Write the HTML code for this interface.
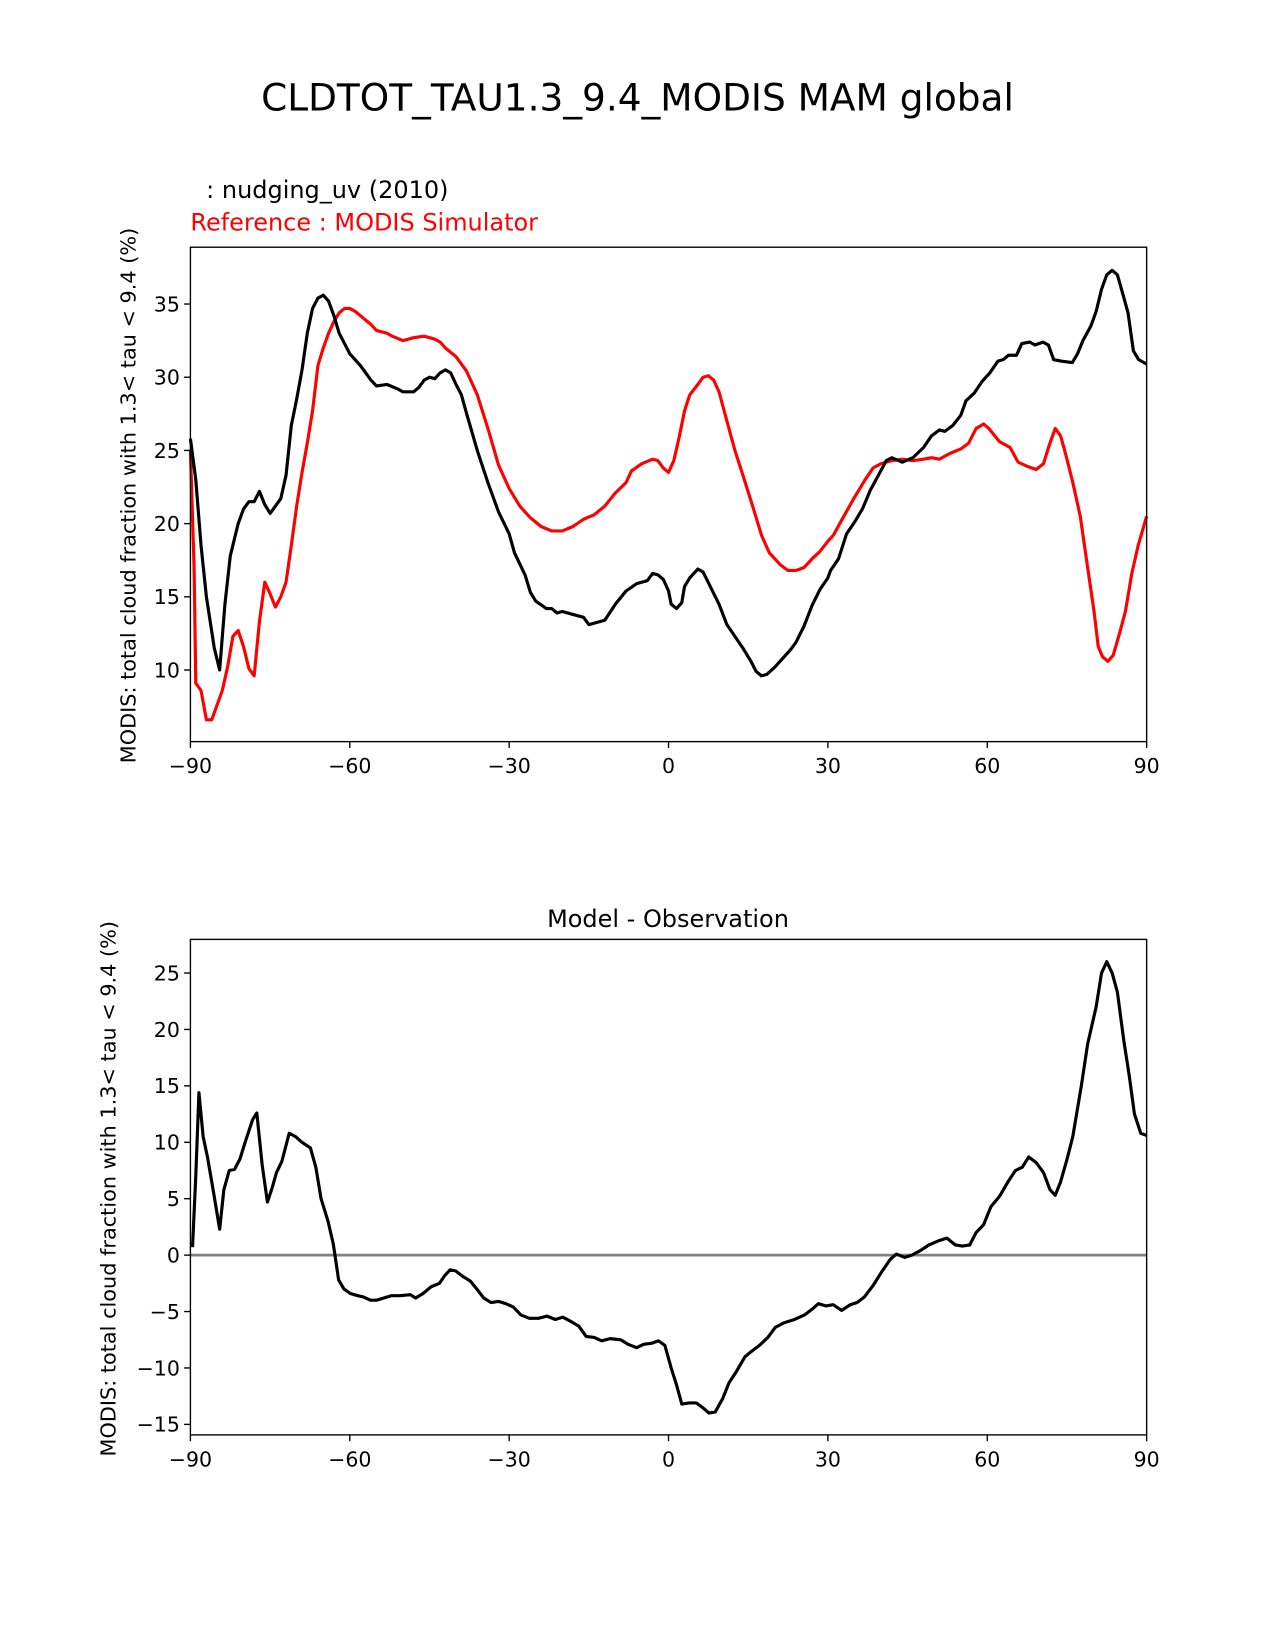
<!DOCTYPE html>
<html><head><meta charset="utf-8"><style>
body{margin:0;background:#fff}
svg{display:block;font-family:"DejaVu Sans","Liberation Sans",sans-serif}
</style></head><body>
<svg id="fig" width="1275" height="1650" viewBox="0 0 1212 1568.5">
<text x="606" y="105" font-size="35.6" text-anchor="middle">CLDTOT_TAU1.3_9.4_MODIS MAM global</text>
<text x="196" y="188" font-size="22.8">: nudging_uv (2010)</text>
<text x="181" y="219" font-size="22.8" fill="#ff0000">Reference : MODIS Simulator</text>
<text x="635" y="881" font-size="22.8" text-anchor="middle">Model - Observation</text>
<text transform="translate(129,471) rotate(-90)" font-size="19.8" text-anchor="middle">MODIS: total cloud fraction with 1.3&lt; tau &lt; 9.4 (%)</text>
<text transform="translate(110,1130) rotate(-90)" font-size="19.8" text-anchor="middle">MODIS: total cloud fraction with 1.3&lt; tau &lt; 9.4 (%)</text>
<g id="top"></g>
<g id="bot"></g>
</svg>
<script>
const xTicks=[-90,-60,-30,0,30,60,90];
const topYTicks=[10,15,20,25,30,35];
const botYTicks=[-15,-10,-5,0,5,10,15,20,25];
const modelLat=[-90,-89,-88,-87,-85.5,-84.5,-83.5,-82.5,-81,-80,-79,-78,-77,-76,-75,-74,-73,-72,-71,-70,-69,-68,-67,-66,-65,-64,-63,-62,-61,-60,-58,-57,-56,-55,-53,-51,-50,-48,-47,-46,-45,-44,-43,-42,-41,-40,-39,-38,-36,-34,-32,-30,-29,-27,-26,-25,-23,-22,-21,-20,-18,-16,-15,-12,-10,-8,-6,-5,-4,-3,-2,-1,0,0.5,1.5,2.5,3,4,5.5,6.5,8,9.5,11,12.5,14,15.5,16.5,17.5,18.5,20,21.5,23,24,25.5,27,28.5,30,30.5,32,33.5,35,36.5,38,39.5,41,42,44,46,48,49.5,51,52,53.5,55,56,57.5,59,60.5,62,63,64,65.5,66.5,68,69,70.5,71.5,72.5,74,76,77,78,79.5,80.5,81.5,82.5,83.5,84.5,85.5,86.5,87.5,88.5,90];
const modelVal=[25.8,23,18.5,15,11.5,10,14.5,17.8,20,21,21.5,21.5,22.2,21.3,20.7,21.2,21.7,23.3,26.7,28.5,30.5,33,34.7,35.4,35.6,35.2,34.2,33,32.3,31.6,30.8,30.3,29.8,29.4,29.5,29.2,29.0,29.0,29.3,29.8,30.0,29.9,30.3,30.5,30.3,29.5,28.8,27.5,25,22.8,20.8,19.3,18,16.5,15.3,14.7,14.2,14.2,13.9,14,13.8,13.6,13.1,13.4,14.5,15.4,15.9,16,16.1,16.6,16.5,16.2,15.4,14.5,14.2,14.6,15.7,16.3,16.9,16.7,15.6,14.5,13.1,12.3,11.5,10.6,9.9,9.6,9.7,10.2,10.8,11.4,11.9,13,14.4,15.5,16.3,16.8,17.6,19.3,20.1,21,22.3,23.3,24.3,24.5,24.2,24.5,25.2,26,26.4,26.3,26.7,27.4,28.4,28.9,29.7,30.3,31.1,31.2,31.5,31.5,32.3,32.4,32.2,32.4,32.2,31.2,31.1,31,31.6,32.5,33.5,34.5,36,37,37.3,37,35.7,34.4,31.8,31.2,30.9];
const refLat=[-90,-89.3,-89,-88,-87,-86,-85,-84,-83,-82,-81,-80,-79,-78,-77,-76,-75,-74,-73,-72,-71,-70,-69,-68,-67,-66,-65,-64,-63,-62,-61,-60,-59,-58,-57,-56,-55,-53,-52,-50,-48,-46,-44,-43,-42,-40,-38,-36,-34,-32,-30,-28,-26,-24,-22,-20,-18,-16,-14,-12,-10,-8,-7,-5,-3,-2,-1,0,1,2,3,4,5.5,6.5,7.5,8.5,9.5,11,12.5,14,16,17.5,19,21,22.5,24,25.5,27,28.5,30,31,33,35,37,38.5,40,42,44,46,48,49.5,51,53,55,56.5,57.9,59.3,60.3,62.3,64.3,65.8,67.6,69.2,70.6,71.6,72.8,73.8,74.8,76.1,77.5,78.7,80.1,80.9,81.7,82.7,83.7,84.9,86,87.2,88.4,90];
const refVal=[25,17,9.1,8.6,6.6,6.6,7.6,8.6,10.2,12.3,12.7,11.6,10.1,9.6,13.3,16,15.2,14.3,15,16,18.5,21.2,23.5,25.5,27.7,30.8,32,33,33.8,34.4,34.7,34.7,34.5,34.2,33.9,33.6,33.2,33.0,32.8,32.5,32.7,32.8,32.6,32.4,32.0,31.4,30.4,28.8,26.5,24,22.4,21.2,20.4,19.8,19.5,19.5,19.8,20.3,20.6,21.2,22.1,22.8,23.6,24.1,24.4,24.3,23.8,23.5,24.3,25.9,27.7,28.8,29.5,30,30.1,29.8,29,27,25,23.3,21,19.2,18,17.2,16.8,16.8,17,17.6,18.1,18.8,19.2,20.5,21.8,23,23.8,24.1,24.3,24.4,24.3,24.4,24.5,24.4,24.8,25.1,25.5,26.5,26.8,26.5,25.6,25.2,24.2,23.9,23.7,24.1,25.3,26.5,26,24.7,22.8,20.5,17.5,14,11.6,10.9,10.6,11,12.5,14,16.6,18.5,20.5,20.5];
const diffLat=[-89.6,-89,-88.4,-87.6,-86.8,-85.8,-84.5,-83.7,-82.7,-81.7,-80.7,-79.7,-78.3,-77.5,-76.5,-75.5,-74.6,-73.8,-72.8,-71.4,-70.2,-69,-67.4,-66.4,-65.4,-64.1,-63.1,-62.1,-61.1,-59.9,-58.5,-57.5,-56.1,-55,-53.6,-52.2,-50.6,-48.6,-47.6,-46.2,-44.7,-43.1,-42.1,-41.1,-40.1,-38.7,-37.3,-36.1,-34.8,-33.4,-32,-30.6,-29.2,-27.8,-26.2,-24.5,-22.9,-21.3,-19.9,-18.3,-16.9,-15.5,-14,-12.6,-11,-9,-7.6,-6,-4.7,-3.1,-1.9,-0.7,0.5,1.5,2.5,3.9,5.2,6.4,7.6,8.8,10.2,11.4,12.8,14.4,15.7,17.1,18.7,20.1,21.7,23.7,25.6,27,28.2,29.6,31,32.6,34.2,35.5,36.9,38.5,40.1,41.7,42.9,44.5,45.8,47.4,49,51,52.4,54,55.3,56.7,57.9,59.3,60.7,62.3,63.9,65.3,66.6,67.8,69.2,70.6,71.8,72.8,73.8,75,76.1,77.7,78.9,80.5,81.5,82.5,83.5,84.5,85.7,86.7,87.7,88.9,90];
const diffVal=[0.7,7,14.4,10.5,8.7,6,2.3,5.8,7.5,7.6,8.5,10,12,12.6,8,4.7,6,7.3,8.3,10.8,10.5,10,9.5,7.8,5,3,1,-2.2,-3,-3.4,-3.6,-3.7,-4,-4,-3.8,-3.6,-3.6,-3.5,-3.8,-3.4,-2.8,-2.5,-1.8,-1.3,-1.4,-1.9,-2.3,-3,-3.8,-4.2,-4.1,-4.3,-4.6,-5.3,-5.6,-5.6,-5.4,-5.7,-5.5,-5.9,-6.3,-7.2,-7.3,-7.6,-7.4,-7.5,-7.9,-8.2,-7.9,-7.8,-7.6,-8,-10,-11.5,-13.2,-13.1,-13.1,-13.5,-14,-13.9,-12.7,-11.3,-10.3,-9,-8.5,-8,-7.3,-6.4,-6,-5.7,-5.3,-4.8,-4.3,-4.5,-4.4,-4.9,-4.4,-4.2,-3.7,-2.7,-1.5,-0.4,0.1,-0.2,0,0.4,0.9,1.3,1.5,0.9,0.8,0.9,2,2.7,4.3,5.2,6.5,7.5,7.8,8.7,8.2,7.3,5.8,5.3,6.5,8.5,10.5,15,18.7,22,25,26,25,23.3,19,16,12.5,10.8,10.6];

const NS='http://www.w3.org/2000/svg';
function mk(parent,tag,attrs){const e=document.createElementNS(NS,tag);for(const k in attrs)e.setAttribute(k,attrs[k]);parent.appendChild(e);return e;}
function panel(g,top,bot,ymin,ymax,yticks,prefix){
  const L=181,R=1090;
  const sx=v=>L+(v+90)/180*(R-L);
  const sy=v=>bot-(v-ymin)/(ymax-ymin)*(bot-top);
  return {sx,sy,L,R,top,bot,draw(){
    const fr=mk(g,'rect',{x:L,y:top,width:R-L,height:bot-top,fill:'none',stroke:'#000','stroke-width':1.3});
    
    
    xTicks.forEach(t=>{
      const ln=mk(g,'line',{x1:sx(t),x2:sx(t),y1:bot,y2:bot+6,stroke:'#000','stroke-width':1.3});
      
      
      const tx=mk(g,'text',{x:sx(t),y:bot+30,'font-size':19.5,'text-anchor':'middle'});
      tx.textContent=(t<0?'\u2212'+(-t):t);
      
      
    });
    yticks.forEach(t=>{
      const ln=mk(g,'line',{x1:L-6,x2:L,y1:sy(t),y2:sy(t),stroke:'#000','stroke-width':1.3});
      
      
      const tx=mk(g,'text',{x:L-10,y:sy(t)+7,'font-size':19.5,'text-anchor':'end'});
      tx.textContent=(t<0?'\u2212'+(-t):t);
      
      
    });
  }};
}
function line(g,p,lat,val,color,name){
  const d=lat.map((x,i)=>(i?'L':'M')+p.sx(x).toFixed(1)+' '+p.sy(val[i]).toFixed(1)).join(' ');
  const e=mk(g,'path',{d:d,fill:'none',stroke:color,'stroke-width':3,'stroke-linejoin':'round'});
  
  
}
const gt=document.getElementById('top'), gb=document.getElementById('bot');
const pt=panel(gt,235,705,5.11,38.88,topYTicks,'top');
line(gt,pt,refLat,refVal,'#ff0000','reference-line');
line(gt,pt,modelLat,modelVal,'#000000','model-line');
pt.draw();
const pb=panel(gb,893,1364,-15.93,27.98,botYTicks,'bottom');
const z=mk(gb,'line',{x1:pb.L,x2:pb.R,y1:pb.sy(0),y2:pb.sy(0),stroke:'#808080','stroke-width':2.5});


line(gb,pb,diffLat,diffVal,'#000000','difference-line');
pb.draw();
</script>
</body></html>
